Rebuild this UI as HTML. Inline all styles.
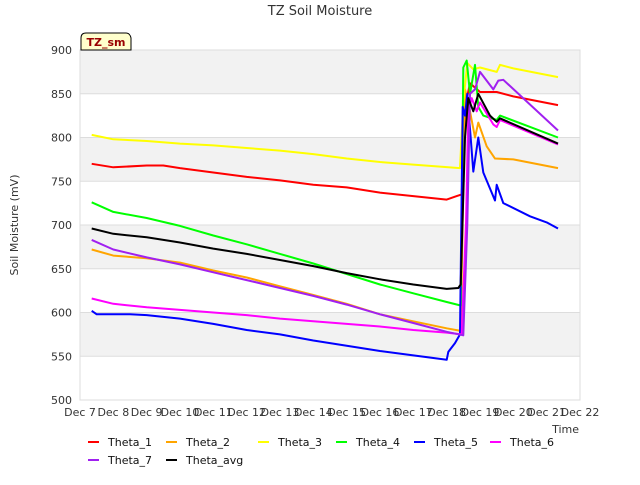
<!DOCTYPE html>
<html><head><meta charset="utf-8"><style>
body{margin:0;background:#fff;font-family:"Liberation Sans","DejaVu Sans",sans-serif}
svg text{font-family:"DejaVu Sans","Liberation Sans",sans-serif}
</style></head><body>
<svg id="c" width="640" height="480" xmlns="http://www.w3.org/2000/svg"></svg>
<script>
const yTicks=[500,550,600,650,700,750,800,850,900];
const xTickLabels=["Dec 7","Dec 8","Dec 9","Dec 10","Dec 11","Dec 12","Dec 13","Dec 14","Dec 15","Dec 16","Dec 17","Dec 18","Dec 19","Dec 20","Dec 21","Dec 22"];
const seriesNames=["Theta_1","Theta_2","Theta_3","Theta_4","Theta_5","Theta_6","Theta_7","Theta_avg"];
const seriesColors=["#ff0000","#ffa500","#ffff00","#00ff00","#0000ff","#ff00ff","#a020f0","#000000"];
const theta1Days=[0.35,1,2,2.5,3,4,5,6,7,8,9,10,11,11.3,11.45,11.58,11.7,12,12.5,13,14.34];
const theta1Vals=[770,766,768,768,765,760,755,751,746,743,737,733,729,733,735,840,862,852,852,847,837];
const theta2Days=[0.35,1,2,3,4,5,6,7,8,9,10,11,11.42,11.55,11.7,11.85,11.95,12.2,12.45,13,14.34];
const theta2Vals=[672,665,662,657,648,640,630,620,610,598,590,582,579,855,830,800,817,790,776,775,765];
const theta3Days=[0.35,1,2,3,4,5,6,7,8,9,10,11.4,11.5,11.62,11.8,12,12.5,12.6,13,14.34];
const theta3Vals=[803,798,796,793,791,788,785,781,776,772,769,765,840,885,878,880,875,883,879,869];
const theta4Days=[0.35,1,2,3,4,5,6,7,8,9,10,11,11.42,11.5,11.6,11.7,11.85,11.95,12.1,12.5,12.6,14.34];
const theta4Vals=[726,715,708,699,688,678,667,656,644,632,622,612,608,880,888,850,883,835,825,820,825,800];
const theta5Days=[0.35,0.5,1.5,2,3,4,5,6,7,8,9,10,11,11.05,11.25,11.4,11.48,11.55,11.62,11.8,11.95,12.1,12.45,12.5,12.7,13.5,14,14.34];
const theta5Vals=[602,598,598,597,593,587,580,575,568,562,556,551,546,555,565,575,835,825,850,761,800,760,728,746,725,710,703,696];
const theta6Days=[0.35,1,2,3,4,5,6,7,8,9,10,11,11.45,11.58,11.65,11.75,11.9,12,12.4,12.5,12.6,14.34];
const theta6Vals=[616,610,606,603,600,597,593,590,587,584,580,577,575,700,830,845,830,840,815,812,820,792];
const theta7Days=[0.35,1,2,3,4,5,6,7,8,9,10,11,11.5,11.62,11.7,11.85,12,12.4,12.55,12.7,14.34];
const theta7Vals=[683,672,663,655,646,637,628,619,609,598,588,578,574,700,850,855,875,855,865,866,808];
const thetaAvgDays=[0.35,1,2,3,4,5,6,7,8,9,10,11,11.35,11.42,11.55,11.65,11.8,11.95,12.3,12.5,12.6,14.34];
const thetaAvgVals=[696,690,686,680,673,667,660,653,645,638,632,627,628,632,800,845,830,850,825,818,822,793];
const allDays=[theta1Days,theta2Days,theta3Days,theta4Days,theta5Days,theta6Days,theta7Days,thetaAvgDays];
const allVals=[theta1Vals,theta2Vals,theta3Vals,theta4Vals,theta5Vals,theta6Vals,theta7Vals,thetaAvgVals];

const NS="http://www.w3.org/2000/svg",svg=document.getElementById('c');
const X0=80,X1=580,Y0=400,Y1=50;
const xs=d=>X0+d*(X1-X0)/15, ys=v=>Y0-(v-500)*(Y0-Y1)/400;
function mk(t,a,txt){const e=document.createElementNS(NS,t);for(const k in a)e.setAttribute(k,a[k]);if(txt!==undefined)e.textContent=txt;svg.appendChild(e);return e;}
// bands
for(let i=0;i<yTicks.length-1;i++){
 const g=mk('rect',{x:X0,y:ys(yTicks[i+1]),width:X1-X0,height:ys(yTicks[i])-ys(yTicks[i+1]),fill:(i%2==1)?'#f2f2f2':'#ffffff'});
 
 
}
yTicks.forEach(v=>{
 const l=mk('line',{x1:X0,x2:X1,y1:ys(v),y2:ys(v),stroke:'#dddddd','stroke-width':1});
 
 
 const t=mk('text',{x:X0-8,y:ys(v)+4,'text-anchor':'end','font-size':11,fill:'#333'},v);
 
 
});
const fr=mk('rect',{x:X0,y:Y1,width:X1-X0,height:Y0-Y1,fill:'none',stroke:'#dddddd'});


xTickLabels.forEach((s,i)=>{
 const t=mk('text',{x:xs(i),y:Y0+16,'text-anchor':'middle','font-size':11,fill:'#333'},s);
 
 
});
allDays.forEach((ds,k)=>{
 const p=mk('polyline',{points:ds.map((d,i)=>xs(d).toFixed(1)+','+ys(allVals[k][i]).toFixed(1)).join(' '),fill:'none',stroke:seriesColors[k],'stroke-width':2,'stroke-linejoin':'round'});
 
 
});
const tt=mk('text',{x:320,y:15,'text-anchor':'middle','font-size':13,fill:'#333'},'TZ Soil Moisture');


const yl=mk('text',{x:18,y:225,'text-anchor':'middle','font-size':11,fill:'#333',transform:'rotate(-90 18 225)'},'Soil Moisture (mV)');


const xl=mk('text',{x:579,y:433,'text-anchor':'end','font-size':11,fill:'#333'},'Time');


const bx=mk('path',{d:'M81,50 L81,38 Q81,33 86,33 L126,33 Q130,33 131,38 L131,50 Z',fill:'#ffffcc',stroke:'#000','stroke-width':1});


const bt=mk('text',{x:106,y:46,'text-anchor':'middle','font-size':11,'font-weight':'bold',fill:'#990000'},'TZ_sm');


const legX=[88,166,258,336,414,490,88,166],legY=[442,442,442,442,442,442,460,460];
seriesNames.forEach((n,k)=>{
 const l=mk('line',{x1:legX[k],x2:legX[k]+11,y1:legY[k],y2:legY[k],stroke:seriesColors[k],'stroke-width':2});
 
 
 const t=mk('text',{x:legX[k]+20,y:legY[k]+4,'font-size':11,fill:'#111'},n);
 
 
});
</script>
</body></html>
